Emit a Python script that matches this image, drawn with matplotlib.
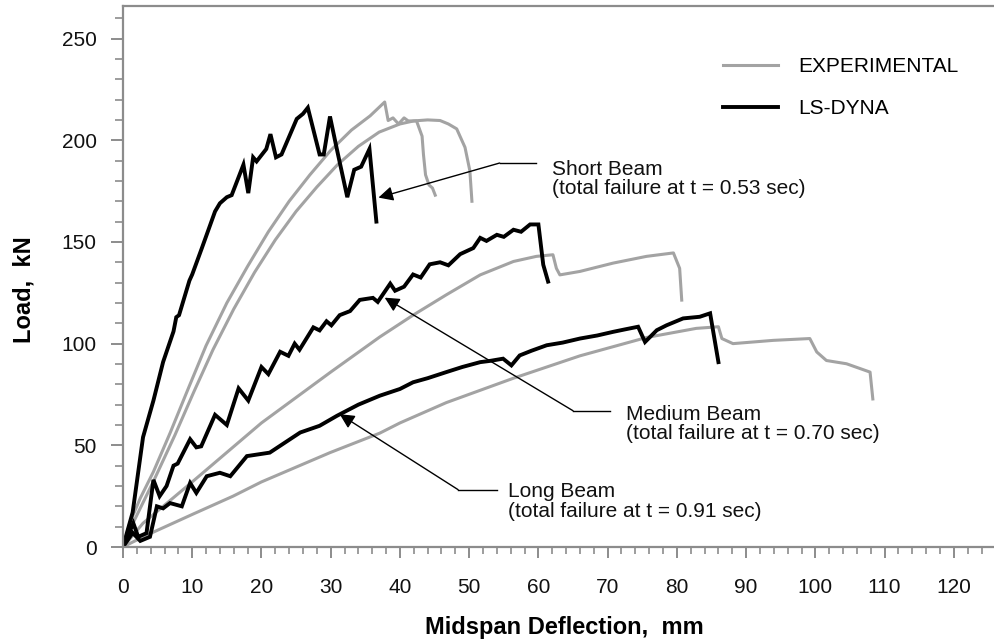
import matplotlib
matplotlib.use("Agg")
import matplotlib.pyplot as plt
from matplotlib.ticker import MultipleLocator

plt.rcParams['font.family'] = ['Liberation Sans', 'DejaVu Sans']

# ---------------- data ----------------
short_dyna_x = [0, 1.4, 2.9, 4.4, 5.8, 7.3, 7.7, 8.1, 9.6, 10.0, 11.4, 13.3, 14.0, 15.0, 15.7, 17.4, 18.1,
                18.8, 19.3, 20.7, 21.3, 22.1, 22.9, 25.1, 26.0, 26.7, 28.4, 29.0, 29.9, 30.9, 32.4, 33.4,
                34.4, 35.6, 36.6]
short_dyna_y = [0, 17, 54, 72, 91, 106, 113, 114, 131, 134, 147, 165, 169, 172, 173, 188, 174,
                191.6, 189.6, 195.7, 203, 191.6, 193, 210.5, 213, 216, 193, 193, 211.7, 195.5, 172, 185.5,
                187, 195.7, 160]

short_exp1_x = [0, 1, 2.5, 4.4, 6.8, 9.2, 12, 15, 18, 21, 24, 27, 30, 33, 35.7, 37.8, 38.3, 39.0,
                39.8, 40.6, 41.2, 42.4, 43.2, 43.4, 43.7, 44.2, 44.7, 45.1]
short_exp1_y = [0, 12, 24, 37, 56, 76, 99, 120, 138, 155, 170, 183, 195, 205, 212, 218.8, 209.7, 211,
                208, 211, 209.5, 209.5, 202, 193, 183, 178, 176.5, 173]
short_exp2_x = [0, 1.2, 4.5, 7.5, 10.2, 13, 16, 19, 22, 25, 28, 31, 34, 37, 40, 42, 44, 45.8, 47,
                48.2, 49.4, 50.1, 50.4]
short_exp2_y = [0, 10, 33, 55, 76, 97, 117, 135, 151, 165, 177, 188, 197, 204, 208, 209.5, 210,
                209.7, 208, 205.6, 196.5, 185, 170]

medium_dyna_x = [0, 1.5, 2.2, 3.4, 4.4, 5.3, 6.3, 7.3, 7.9, 9.7, 10.6, 11.3, 13.3, 15.0, 16.7, 18.1,
                 20.0, 21.0, 22.7, 23.9, 24.8, 25.5, 27.5, 28.4, 29.4, 30.1, 31.3, 32.8, 34.2, 36.1,
                 36.8, 38.6, 39.3, 40.6, 41.9, 43.0, 44.3, 45.8, 47.0, 48.7, 50.6, 51.6, 52.5, 54.0,
                 55.0, 56.4, 57.5, 58.8, 60.0, 60.7, 61.4]
medium_dyna_y = [0, 11.7, 5, 6.8, 33, 25, 30, 40, 41, 53, 49, 49.5, 65, 60, 78, 72,
                 88.5, 85, 96, 94, 100, 97, 108, 106.5, 111, 109, 114, 116, 121.5, 122.5,
                 120.5, 129.5, 126, 128, 134, 132.5, 139, 140, 138.5, 144, 147, 152, 150.5, 153.5,
                 152.5, 156, 155, 158.6, 158.6, 138.8, 130.5]

medium_exp_x = [0, 2.9, 10, 20, 30, 37.1, 41.9, 46.7, 51.6, 56.4, 59.7, 62.1, 62.6, 63.1, 66.0, 70.8,
                75.6, 79.5, 80.4, 80.7]
medium_exp_y = [0, 11.7, 32, 61, 86, 103.3, 114, 124, 133.8, 140.4, 142.9, 143.7, 137, 133.8, 135.5,
                139.6, 142.9, 144.6, 137, 121.4]

long_dyna_x = [0, 1.4, 2.5, 3.9, 4.9, 5.8, 6.8, 8.5, 9.7, 10.6, 12.1, 14.0, 15.5, 17.9, 21.2, 25.6,
               28.4, 30.9, 34, 37.1, 40, 41.9, 44, 46.7, 49, 51.6, 53, 54.9, 56.1, 57.3, 59, 61.2,
               63.5, 66.0, 68.5, 70.8, 72.5, 74.4, 75.4, 77.1, 78.5, 80.9, 83.3, 84.8, 86.0]
long_dyna_y = [0, 7, 3, 5, 20, 19, 21.6, 20, 31.5, 26.6, 34.8, 36.5, 34.8, 44.7, 46.4, 56.3,
               59.6, 64.5, 70, 74.4, 77.7, 81, 83, 86, 88.5, 90.9, 91.5, 92.6, 89.3, 94.2, 96.5, 99.2,
               100.5, 102.5, 104, 105.8, 107, 108.3, 100.8, 106.6, 109, 112.4, 113.2, 114.9, 90.9]

long_exp_x = [0, 2.9, 10, 15.9, 20, 29.9, 37.1, 40, 46.7, 56.4, 66, 75.6, 82.8, 86.0, 86.5, 88.1,
              93.9, 99.2, 100.2, 101.6, 104.5, 107.9, 108.3]
long_exp_y = [0, 5, 16, 25, 32, 46.4, 56, 61, 71, 83, 94, 103, 107.5, 108.3, 102.5, 100,
              101.6, 102.5, 95.9, 91.7, 90.1, 86, 72.8]

x_ticks = [0, 10, 20, 30, 40, 50, 60, 70, 80, 90, 100, 110, 120]
y_ticks = [0, 50, 100, 150, 200, 250]

legend_labels = ["EXPERIMENTAL", "LS-DYNA"]
annot_texts = ["Short Beam\n(total failure at t = 0.53 sec)",
               "Medium Beam\n(total failure at t = 0.70 sec)",
               "Long Beam\n(total failure at t = 0.91 sec)"]
# arrow tip, elbow, end of horizontal leader, text anchor (data coordinates)
annot_tips = [(36.9, 171.8), (37.8, 122.6), (31.3, 65.3)]
annot_elbows = [(54.4, 188.8), (65.0, 67.0), (48.4, 28.2)]
annot_leader_end = [59.7, 70.3, 54.0]
annot_text_pos = [(61.9, 180.9), (72.7, 60.5), (55.6, 22.4)]

# ---------------- figure ----------------
fig = plt.figure(figsize=(9.94, 6.40), dpi=100)
ax = fig.add_axes([0.1237, 0.1453, 0.8763, 0.8453])

GRAY = '#a3a3a3'
exp_kw = dict(color=GRAY, lw=2.2, solid_joinstyle='round')
dyna_kw = dict(color='black', lw=2.8, solid_joinstyle='miter')

l_exp, = ax.plot(short_exp1_x, short_exp1_y, **exp_kw)
ax.plot(short_exp2_x, short_exp2_y, **exp_kw)
ax.plot(medium_exp_x, medium_exp_y, **exp_kw)
ax.plot(long_exp_x, long_exp_y, **exp_kw)

l_dyna, = ax.plot(short_dyna_x, short_dyna_y, **dyna_kw)
ax.plot(medium_dyna_x, medium_dyna_y, **dyna_kw)
ax.plot(long_dyna_x, long_dyna_y, **dyna_kw)

# annotations
for txt, tip, elbow, lend, tpos in zip(annot_texts, annot_tips, annot_elbows,
                                       annot_leader_end, annot_text_pos):
    ax.plot([elbow[0], lend], [elbow[1], elbow[1]], color='black', lw=1.0)
    ax.annotate('', xy=tip, xytext=elbow,
                arrowprops=dict(arrowstyle='-|>', color='black', lw=1.0,
                                mutation_scale=22, shrinkA=0, shrinkB=0))
    ax.text(tpos[0], tpos[1], txt, fontsize=15, ha='left', va='center',
            linespacing=1.05, color='#111111')

ax.set_xlim(0, 125.8)
ax.set_ylim(0, 266)
ax.set_xticks(x_ticks)
ax.set_yticks(y_ticks)
ax.xaxis.set_minor_locator(MultipleLocator(2))
ax.yaxis.set_minor_locator(MultipleLocator(10))

SP = '#8c8c8c'
for s in ['left', 'bottom', 'top']:
    ax.spines[s].set_color(SP)
    ax.spines[s].set_linewidth(1.6)
ax.spines['right'].set_visible(False)

ax.tick_params(axis='both', which='major', direction='out', color=SP, width=1.4,
               labelsize=15, labelcolor='#111111')
ax.tick_params(axis='y', which='major', length=9, pad=10)
ax.tick_params(axis='x', which='major', length=8, pad=14)
ax.tick_params(axis='y', which='minor', length=6, width=1.2, color=SP)
ax.tick_params(axis='x', which='minor', length=5, width=1.2, color=SP)

ax.set_xlabel('Midspan Deflection,  mm', fontsize=17, fontweight='bold')
ax.set_ylabel('Load,  kN', fontsize=17, fontweight='bold')
ax.xaxis.set_label_coords(0.507, -0.128)
ax.yaxis.set_label_coords(-0.100, 0.475)

ax.legend([l_exp, l_dyna], legend_labels, loc='upper left', bbox_to_anchor=(0.689, 0.905),
          frameon=False, fontsize=15, handlelength=2.65, handletextpad=0.95,
          labelspacing=1.1, borderpad=0, borderaxespad=0)

fig.savefig('out.png', dpi=100)
